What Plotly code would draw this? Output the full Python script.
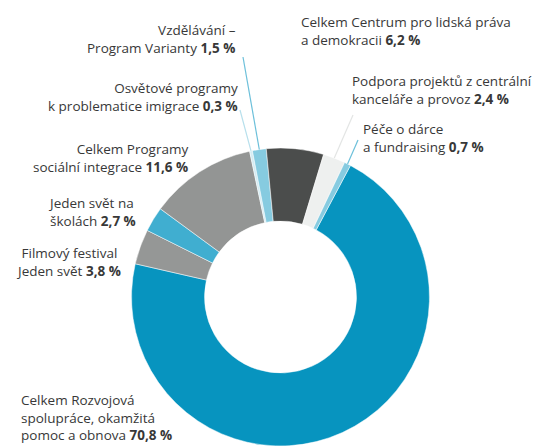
import math
import plotly.graph_objects as go

# data
categories = [
    "Celkem Rozvojová<br>spolupráce, okamžitá<br>pomoc a obnova",
    "Filmový festival<br>Jeden svět",
    "Jeden svět na<br>školách",
    "Celkem Programy<br>sociální integrace",
    "Osvětové programy<br>k problematice imigrace",
    "Vzdělávání –<br>Program Varianty",
    "Celkem Centrum pro lidská práva<br>a demokracii",
    "Podpora projektů z centrální<br>kanceláře a provoz",
    "Péče o dárce<br>a fundraising",
]
shares = [70.8, 3.8, 2.7, 11.6, 0.3, 1.5, 6.2, 2.4, 0.7]

# style
# the page body keeps its 8px margin, so the figure is a bit smaller than the window
W, H = 535, 438
slice_colors = ["#0794bf", "#959796", "#40aed0", "#939594", "#d4ecf3",
                "#86cbe0", "#4b4d4c", "#eef0ef", "#86cbe0"]
rotation = 28
radius_px = 149
dom_x = [123.5 / W, 421.5 / W]
dom_y = [0.0, 298 / H]

# label placement: (x px, top px, anchor/align)
label_pos = [
    (12, 382, "left"),
    (60, 235, "center"),
    (39, 185, "left"),
    (181, 131, "right"),
    (231, 70, "right"),
    (229, 12, "right"),
    (292, 4, "left"),
    (343, 63, "left"),
    (354, 111, "left"),
]
# leader lines: index -> (label end x px, y px, colour)
leaders = {
    4: (232, 102, "#b7e0ec"),
    5: (235, 49, "#6cc0da"),
    7: (345, 107, "#e3e5e4"),
    8: (350, 132, "#6cc0da"),
}

font_family = "'Open Sans', Lato, sans-serif"

fig = go.Figure(go.Pie(
    labels=categories,
    values=shares,
    sort=False,
    direction="clockwise",
    rotation=rotation,
    hole=0.51,
    textinfo="none",
    marker=dict(colors=slice_colors, line=dict(color="white", width=0.5)),
    domain=dict(x=dom_x, y=dom_y),
    showlegend=False,
))

annotations = []
for name, val, (px_x, px_top, anch) in zip(categories, shares, label_pos):
    pct = f"{val:.1f}".replace(".", ",")
    annotations.append(dict(
        x=px_x / W, y=1 - px_top / H, xref="paper", yref="paper",
        xanchor=anch, yanchor="top", align=anch, showarrow=False,
        borderpad=0,
        text=f"{name} <b>{pct} %</b>",
        font=dict(family=font_family, size=13.5, color="#383838"),
    ))

# leader lines from the slice middle to the label
cx = (dom_x[0] + dom_x[1]) / 2
cy = (dom_y[0] + dom_y[1]) / 2
total = sum(shares)
shapes = []
start = rotation
for i, val in enumerate(shares):
    sweep = val / total * 360
    mid = math.radians(start + sweep / 2)
    start += sweep
    if i not in leaders:
        continue
    lx, ly, col = leaders[i]
    sx = cx + radius_px * math.sin(mid) / W
    sy = cy + radius_px * math.cos(mid) / H
    shapes.append(dict(
        type="line", xref="paper", yref="paper",
        x0=sx, y0=sy, x1=lx / W, y1=1 - ly / H,
        line=dict(color=col, width=1.2),
    ))

fig.update_layout(
    width=W, height=H,
    margin=dict(l=0, r=0, t=0, b=0),
    paper_bgcolor="white",
    plot_bgcolor="white",
    annotations=annotations,
    shapes=shapes,
)

fig.write_html("out.html")
